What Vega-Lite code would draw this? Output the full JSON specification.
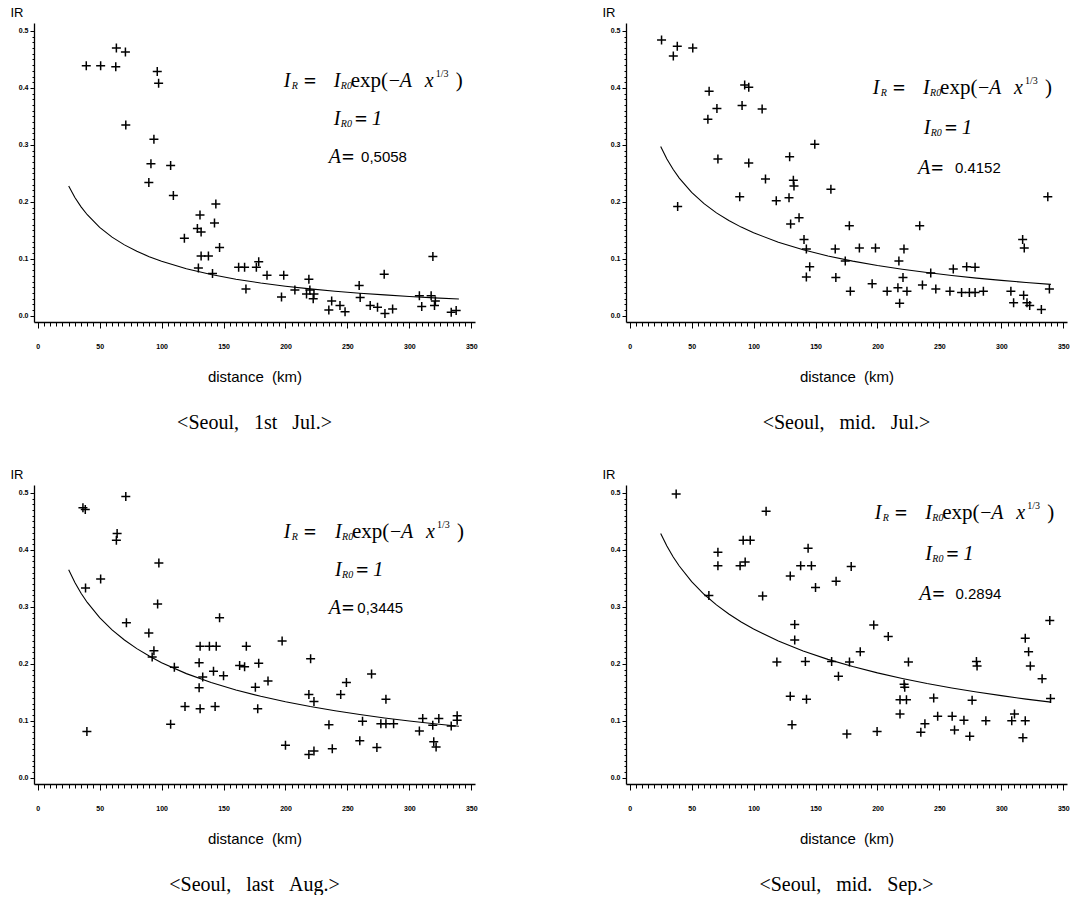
{
"$schema": "https://vega.github.io/schema/vega-lite/v6.json",
"background": "white",
"padding": {"left": 10, "top": 6, "right": 0, "bottom": 0},
"config": {"view": {"stroke": null}},
"data": {"values": [
{"panel":"a","kind":"p","d":39.2,"ir":0.439},{"panel":"a","kind":"p","d":50.8,"ir":0.439},{"panel":"a","kind":"p","d":63.5,"ir":0.470},{"panel":"a","kind":"p","d":63,"ir":0.437},{"panel":"a","kind":"p","d":70.8,"ir":0.463},{"panel":"a","kind":"p","d":71.1,"ir":0.335},{"panel":"a","kind":"p","d":96.5,"ir":0.429},{"panel":"a","kind":"p","d":97.6,"ir":0.408},{"panel":"a","kind":"p","d":93.8,"ir":0.310},{"panel":"a","kind":"p","d":91.4,"ir":0.267},{"panel":"a","kind":"p","d":89.7,"ir":0.234},{"panel":"a","kind":"p","d":107.3,"ir":0.264},{"panel":"a","kind":"p","d":109.5,"ir":0.211},{"panel":"a","kind":"p","d":118.4,"ir":0.136},{"panel":"a","kind":"p","d":131,"ir":0.177},{"panel":"a","kind":"p","d":128.9,"ir":0.153},{"panel":"a","kind":"p","d":131.9,"ir":0.147},{"panel":"a","kind":"p","d":143.8,"ir":0.196},{"panel":"a","kind":"p","d":142.7,"ir":0.163},{"panel":"a","kind":"p","d":131.9,"ir":0.105},{"panel":"a","kind":"p","d":137.8,"ir":0.105},{"panel":"a","kind":"p","d":146.8,"ir":0.120},{"panel":"a","kind":"p","d":129.7,"ir":0.084},{"panel":"a","kind":"p","d":141.1,"ir":0.074},{"panel":"a","kind":"p","d":162.2,"ir":0.085},{"panel":"a","kind":"p","d":167,"ir":0.085},{"panel":"a","kind":"p","d":168.1,"ir":0.047},{"panel":"a","kind":"p","d":176.5,"ir":0.085},{"panel":"a","kind":"p","d":178.4,"ir":0.095},{"panel":"a","kind":"p","d":185.1,"ir":0.071},{"panel":"a","kind":"p","d":198.6,"ir":0.071},{"panel":"a","kind":"p","d":196.8,"ir":0.033},{"panel":"a","kind":"p","d":207.6,"ir":0.045},{"panel":"a","kind":"p","d":218.9,"ir":0.064},{"panel":"a","kind":"p","d":219.7,"ir":0.045},{"panel":"a","kind":"p","d":223,"ir":0.038},{"panel":"a","kind":"p","d":222.4,"ir":0.030},{"panel":"a","kind":"p","d":217,"ir":0.038},{"panel":"a","kind":"p","d":235,"ir":0.010},{"panel":"a","kind":"p","d":237.3,"ir":0.026},{"panel":"a","kind":"p","d":244,"ir":0.018},{"panel":"a","kind":"p","d":248.1,"ir":0.007},{"panel":"a","kind":"p","d":259.5,"ir":0.053},{"panel":"a","kind":"p","d":260.3,"ir":0.032},{"panel":"a","kind":"p","d":268.4,"ir":0.018},{"panel":"a","kind":"p","d":274.3,"ir":0.015},{"panel":"a","kind":"p","d":280.3,"ir":0.004},{"panel":"a","kind":"p","d":279.7,"ir":0.073},{"panel":"a","kind":"p","d":286.5,"ir":0.012},{"panel":"a","kind":"p","d":308.1,"ir":0.035},{"panel":"a","kind":"p","d":310,"ir":0.016},{"panel":"a","kind":"p","d":317.6,"ir":0.035},{"panel":"a","kind":"p","d":319,"ir":0.104},{"panel":"a","kind":"p","d":320.3,"ir":0.018},{"panel":"a","kind":"p","d":321,"ir":0.026},{"panel":"a","kind":"p","d":333.8,"ir":0.006},{"panel":"a","kind":"p","d":337.8,"ir":0.009},
{"panel":"b","kind":"p","d":25.7,"ir":0.484},{"panel":"b","kind":"p","d":35.2,"ir":0.456},{"panel":"b","kind":"p","d":38.4,"ir":0.473},{"panel":"b","kind":"p","d":50.9,"ir":0.470},{"panel":"b","kind":"p","d":38.7,"ir":0.192},{"panel":"b","kind":"p","d":64.1,"ir":0.394},{"panel":"b","kind":"p","d":63.1,"ir":0.345},{"panel":"b","kind":"p","d":70.4,"ir":0.364},{"panel":"b","kind":"p","d":71.2,"ir":0.275},{"panel":"b","kind":"p","d":92.8,"ir":0.405},{"panel":"b","kind":"p","d":96.1,"ir":0.401},{"panel":"b","kind":"p","d":90.7,"ir":0.369},{"panel":"b","kind":"p","d":106.9,"ir":0.363},{"panel":"b","kind":"p","d":96.1,"ir":0.268},{"panel":"b","kind":"p","d":88.8,"ir":0.209},{"panel":"b","kind":"p","d":109.6,"ir":0.240},{"panel":"b","kind":"p","d":118.3,"ir":0.202},{"panel":"b","kind":"p","d":129.1,"ir":0.279},{"panel":"b","kind":"p","d":132.1,"ir":0.238},{"panel":"b","kind":"p","d":132.6,"ir":0.228},{"panel":"b","kind":"p","d":128.6,"ir":0.207},{"panel":"b","kind":"p","d":129.9,"ir":0.161},{"panel":"b","kind":"p","d":136.7,"ir":0.172},{"panel":"b","kind":"p","d":149.4,"ir":0.301},{"panel":"b","kind":"p","d":140.7,"ir":0.134},{"panel":"b","kind":"p","d":142.6,"ir":0.117},{"panel":"b","kind":"p","d":145.3,"ir":0.086},{"panel":"b","kind":"p","d":142.6,"ir":0.068},{"panel":"b","kind":"p","d":162.4,"ir":0.222},{"panel":"b","kind":"p","d":177.3,"ir":0.158},{"panel":"b","kind":"p","d":165.9,"ir":0.117},{"panel":"b","kind":"p","d":166.4,"ir":0.067},{"panel":"b","kind":"p","d":174,"ir":0.096},{"panel":"b","kind":"p","d":178.1,"ir":0.043},{"panel":"b","kind":"p","d":185.4,"ir":0.119},{"panel":"b","kind":"p","d":198.4,"ir":0.119},{"panel":"b","kind":"p","d":195.7,"ir":0.056},{"panel":"b","kind":"p","d":207.8,"ir":0.043},{"panel":"b","kind":"p","d":216.5,"ir":0.049},{"panel":"b","kind":"p","d":217.3,"ir":0.096},{"panel":"b","kind":"p","d":221.4,"ir":0.117},{"panel":"b","kind":"p","d":220.6,"ir":0.067},{"panel":"b","kind":"p","d":223.8,"ir":0.043},{"panel":"b","kind":"p","d":217.9,"ir":0.022},{"panel":"b","kind":"p","d":234.1,"ir":0.158},{"panel":"b","kind":"p","d":236.3,"ir":0.054},{"panel":"b","kind":"p","d":243,"ir":0.075},{"panel":"b","kind":"p","d":247.1,"ir":0.047},{"panel":"b","kind":"p","d":261.2,"ir":0.082},{"panel":"b","kind":"p","d":258.5,"ir":0.043},{"panel":"b","kind":"p","d":272,"ir":0.086},{"panel":"b","kind":"p","d":278.8,"ir":0.085},{"panel":"b","kind":"p","d":267.9,"ir":0.041},{"panel":"b","kind":"p","d":274.2,"ir":0.041},{"panel":"b","kind":"p","d":278.8,"ir":0.041},{"panel":"b","kind":"p","d":285.5,"ir":0.043},{"panel":"b","kind":"p","d":307.7,"ir":0.043},{"panel":"b","kind":"p","d":309.9,"ir":0.023},{"panel":"b","kind":"p","d":317.2,"ir":0.134},{"panel":"b","kind":"p","d":318.5,"ir":0.119},{"panel":"b","kind":"p","d":318,"ir":0.036},{"panel":"b","kind":"p","d":320.7,"ir":0.023},{"panel":"b","kind":"p","d":322.9,"ir":0.018},{"panel":"b","kind":"p","d":332.3,"ir":0.011},{"panel":"b","kind":"p","d":337.5,"ir":0.209},{"panel":"b","kind":"p","d":338.8,"ir":0.047},
{"panel":"c","kind":"p","d":36.5,"ir":0.474},{"panel":"c","kind":"p","d":38.4,"ir":0.471},{"panel":"c","kind":"p","d":71.1,"ir":0.494},{"panel":"c","kind":"p","d":64.1,"ir":0.429},{"panel":"c","kind":"p","d":63.5,"ir":0.417},{"panel":"c","kind":"p","d":38.6,"ir":0.333},{"panel":"c","kind":"p","d":50.8,"ir":0.349},{"panel":"c","kind":"p","d":39.7,"ir":0.081},{"panel":"c","kind":"p","d":71.6,"ir":0.272},{"panel":"c","kind":"p","d":97.8,"ir":0.377},{"panel":"c","kind":"p","d":96.8,"ir":0.305},{"panel":"c","kind":"p","d":89.7,"ir":0.254},{"panel":"c","kind":"p","d":93.8,"ir":0.223},{"panel":"c","kind":"p","d":92.4,"ir":0.212},{"panel":"c","kind":"p","d":110.3,"ir":0.194},{"panel":"c","kind":"p","d":107.3,"ir":0.094},{"panel":"c","kind":"p","d":118.9,"ir":0.125},{"panel":"c","kind":"p","d":131.1,"ir":0.231},{"panel":"c","kind":"p","d":138.6,"ir":0.231},{"panel":"c","kind":"p","d":144.1,"ir":0.231},{"panel":"c","kind":"p","d":146.8,"ir":0.281},{"panel":"c","kind":"p","d":130.3,"ir":0.202},{"panel":"c","kind":"p","d":130.3,"ir":0.158},{"panel":"c","kind":"p","d":133.2,"ir":0.177},{"panel":"c","kind":"p","d":141.9,"ir":0.187},{"panel":"c","kind":"p","d":150,"ir":0.179},{"panel":"c","kind":"p","d":131.1,"ir":0.121},{"panel":"c","kind":"p","d":143.2,"ir":0.125},{"panel":"c","kind":"p","d":168.4,"ir":0.231},{"panel":"c","kind":"p","d":163,"ir":0.197},{"panel":"c","kind":"p","d":167,"ir":0.195},{"panel":"c","kind":"p","d":178.4,"ir":0.201},{"panel":"c","kind":"p","d":175.7,"ir":0.159},{"panel":"c","kind":"p","d":177.6,"ir":0.121},{"panel":"c","kind":"p","d":185.9,"ir":0.170},{"panel":"c","kind":"p","d":197.3,"ir":0.240},{"panel":"c","kind":"p","d":200,"ir":0.057},{"panel":"c","kind":"p","d":220.3,"ir":0.209},{"panel":"c","kind":"p","d":218.9,"ir":0.146},{"panel":"c","kind":"p","d":223,"ir":0.134},{"panel":"c","kind":"p","d":218.9,"ir":0.041},{"panel":"c","kind":"p","d":223,"ir":0.047},{"panel":"c","kind":"p","d":235.1,"ir":0.093},{"panel":"c","kind":"p","d":237.8,"ir":0.051},{"panel":"c","kind":"p","d":249.2,"ir":0.167},{"panel":"c","kind":"p","d":244.6,"ir":0.146},{"panel":"c","kind":"p","d":262.2,"ir":0.099},{"panel":"c","kind":"p","d":260,"ir":0.065},{"panel":"c","kind":"p","d":269.5,"ir":0.182},{"panel":"c","kind":"p","d":281.1,"ir":0.138},{"panel":"c","kind":"p","d":273.8,"ir":0.053},{"panel":"c","kind":"p","d":277,"ir":0.095},{"panel":"c","kind":"p","d":281.1,"ir":0.095},{"panel":"c","kind":"p","d":287.3,"ir":0.095},{"panel":"c","kind":"p","d":308.1,"ir":0.082},{"panel":"c","kind":"p","d":310.8,"ir":0.104},{"panel":"c","kind":"p","d":318.9,"ir":0.092},{"panel":"c","kind":"p","d":319.7,"ir":0.063},{"panel":"c","kind":"p","d":321.6,"ir":0.054},{"panel":"c","kind":"p","d":323.8,"ir":0.104},{"panel":"c","kind":"p","d":333.8,"ir":0.091},{"panel":"c","kind":"p","d":338.6,"ir":0.109},{"panel":"c","kind":"p","d":338.6,"ir":0.101},
{"panel":"d","kind":"p","d":37.5,"ir":0.498},{"panel":"d","kind":"p","d":110.1,"ir":0.468},{"panel":"d","kind":"p","d":71.2,"ir":0.396},{"panel":"d","kind":"p","d":71.2,"ir":0.372},{"panel":"d","kind":"p","d":89.1,"ir":0.372},{"panel":"d","kind":"p","d":91.6,"ir":0.417},{"panel":"d","kind":"p","d":97.3,"ir":0.417},{"panel":"d","kind":"p","d":93.2,"ir":0.379},{"panel":"d","kind":"p","d":63.9,"ir":0.320},{"panel":"d","kind":"p","d":107.3,"ir":0.319},{"panel":"d","kind":"p","d":118.8,"ir":0.203},{"panel":"d","kind":"p","d":129.6,"ir":0.354},{"panel":"d","kind":"p","d":133.2,"ir":0.269},{"panel":"d","kind":"p","d":133.2,"ir":0.242},{"panel":"d","kind":"p","d":129.6,"ir":0.143},{"panel":"d","kind":"p","d":131,"ir":0.093},{"panel":"d","kind":"p","d":144,"ir":0.403},{"panel":"d","kind":"p","d":138,"ir":0.372},{"panel":"d","kind":"p","d":146.7,"ir":0.372},{"panel":"d","kind":"p","d":141.8,"ir":0.204},{"panel":"d","kind":"p","d":142.7,"ir":0.138},{"panel":"d","kind":"p","d":150,"ir":0.334},{"panel":"d","kind":"p","d":163,"ir":0.204},{"panel":"d","kind":"p","d":166.6,"ir":0.345},{"panel":"d","kind":"p","d":168.5,"ir":0.178},{"panel":"d","kind":"p","d":177.4,"ir":0.203},{"panel":"d","kind":"p","d":178.8,"ir":0.371},{"panel":"d","kind":"p","d":175.3,"ir":0.077},{"panel":"d","kind":"p","d":186.1,"ir":0.221},{"panel":"d","kind":"p","d":197,"ir":0.268},{"panel":"d","kind":"p","d":199.7,"ir":0.081},{"panel":"d","kind":"p","d":208.7,"ir":0.248},{"panel":"d","kind":"p","d":221.5,"ir":0.164},{"panel":"d","kind":"p","d":222,"ir":0.159},{"panel":"d","kind":"p","d":218.2,"ir":0.137},{"panel":"d","kind":"p","d":223.4,"ir":0.137},{"panel":"d","kind":"p","d":218.2,"ir":0.112},{"panel":"d","kind":"p","d":225,"ir":0.203},{"panel":"d","kind":"p","d":235,"ir":0.080},{"panel":"d","kind":"p","d":238.3,"ir":0.095},{"panel":"d","kind":"p","d":245.4,"ir":0.140},{"panel":"d","kind":"p","d":248.6,"ir":0.108},{"panel":"d","kind":"p","d":260.3,"ir":0.108},{"panel":"d","kind":"p","d":262.2,"ir":0.084},{"panel":"d","kind":"p","d":269.8,"ir":0.101},{"panel":"d","kind":"p","d":274.5,"ir":0.073},{"panel":"d","kind":"p","d":276.4,"ir":0.136},{"panel":"d","kind":"p","d":279.9,"ir":0.204},{"panel":"d","kind":"p","d":280.4,"ir":0.196},{"panel":"d","kind":"p","d":287.5,"ir":0.100},{"panel":"d","kind":"p","d":308.4,"ir":0.100},{"panel":"d","kind":"p","d":310.6,"ir":0.112},{"panel":"d","kind":"p","d":317.4,"ir":0.070},{"panel":"d","kind":"p","d":319.3,"ir":0.100},{"panel":"d","kind":"p","d":319.3,"ir":0.245},{"panel":"d","kind":"p","d":322,"ir":0.221},{"panel":"d","kind":"p","d":323.4,"ir":0.196},{"panel":"d","kind":"p","d":332.9,"ir":0.174},{"panel":"d","kind":"p","d":339.1,"ir":0.276},{"panel":"d","kind":"p","d":339.7,"ir":0.139},
{"panel":"a","kind":"f","d":25,"ir":0.2279},{"panel":"a","kind":"f","d":30,"ir":0.2077},{"panel":"a","kind":"f","d":35,"ir":0.1912},{"panel":"a","kind":"f","d":40,"ir":0.1773},{"panel":"a","kind":"f","d":50,"ir":0.1552},{"panel":"a","kind":"f","d":60,"ir":0.1380},{"panel":"a","kind":"f","d":70,"ir":0.1244},{"panel":"a","kind":"f","d":80,"ir":0.1131},{"panel":"a","kind":"f","d":90,"ir":0.1037},{"panel":"a","kind":"f","d":100,"ir":0.0956},{"panel":"a","kind":"f","d":120,"ir":0.0825},{"panel":"a","kind":"f","d":140,"ir":0.0724},{"panel":"a","kind":"f","d":160,"ir":0.0642},{"panel":"a","kind":"f","d":180,"ir":0.0575},{"panel":"a","kind":"f","d":200,"ir":0.0519},{"panel":"a","kind":"f","d":220,"ir":0.0472},{"panel":"a","kind":"f","d":240,"ir":0.0431},{"panel":"a","kind":"f","d":260,"ir":0.0396},{"panel":"a","kind":"f","d":280,"ir":0.0366},{"panel":"a","kind":"f","d":300,"ir":0.0338},{"panel":"a","kind":"f","d":320,"ir":0.0314},{"panel":"a","kind":"f","d":340,"ir":0.0293},
{"panel":"b","kind":"f","d":25,"ir":0.2970},{"panel":"b","kind":"f","d":30,"ir":0.2753},{"panel":"b","kind":"f","d":35,"ir":0.2571},{"panel":"b","kind":"f","d":40,"ir":0.2417},{"panel":"b","kind":"f","d":50,"ir":0.2166},{"panel":"b","kind":"f","d":60,"ir":0.1968},{"panel":"b","kind":"f","d":70,"ir":0.1806},{"panel":"b","kind":"f","d":80,"ir":0.1671},{"panel":"b","kind":"f","d":90,"ir":0.1556},{"panel":"b","kind":"f","d":100,"ir":0.1456},{"panel":"b","kind":"f","d":120,"ir":0.1290},{"panel":"b","kind":"f","d":140,"ir":0.1158},{"panel":"b","kind":"f","d":160,"ir":0.1050},{"panel":"b","kind":"f","d":180,"ir":0.0959},{"panel":"b","kind":"f","d":200,"ir":0.0882},{"panel":"b","kind":"f","d":220,"ir":0.0816},{"panel":"b","kind":"f","d":240,"ir":0.0758},{"panel":"b","kind":"f","d":260,"ir":0.0707},{"panel":"b","kind":"f","d":280,"ir":0.0661},{"panel":"b","kind":"f","d":300,"ir":0.0621},{"panel":"b","kind":"f","d":320,"ir":0.0584},{"panel":"b","kind":"f","d":340,"ir":0.0551},
{"panel":"c","kind":"f","d":25,"ir":0.3652},{"panel":"c","kind":"f","d":30,"ir":0.3429},{"panel":"c","kind":"f","d":35,"ir":0.3240},{"panel":"c","kind":"f","d":40,"ir":0.3078},{"panel":"c","kind":"f","d":50,"ir":0.2811},{"panel":"c","kind":"f","d":60,"ir":0.2596},{"panel":"c","kind":"f","d":70,"ir":0.2418},{"panel":"c","kind":"f","d":80,"ir":0.2267},{"panel":"c","kind":"f","d":90,"ir":0.2136},{"panel":"c","kind":"f","d":100,"ir":0.2021},{"panel":"c","kind":"f","d":120,"ir":0.1828},{"panel":"c","kind":"f","d":140,"ir":0.1672},{"panel":"c","kind":"f","d":160,"ir":0.1541},{"panel":"c","kind":"f","d":180,"ir":0.1430},{"panel":"c","kind":"f","d":200,"ir":0.1334},{"panel":"c","kind":"f","d":220,"ir":0.1250},{"panel":"c","kind":"f","d":240,"ir":0.1176},{"panel":"c","kind":"f","d":260,"ir":0.1109},{"panel":"c","kind":"f","d":280,"ir":0.1050},{"panel":"c","kind":"f","d":300,"ir":0.0996},{"panel":"c","kind":"f","d":320,"ir":0.0948},{"panel":"c","kind":"f","d":340,"ir":0.0903},
{"panel":"d","kind":"f","d":25,"ir":0.4290},{"panel":"d","kind":"f","d":30,"ir":0.4069},{"panel":"d","kind":"f","d":35,"ir":0.3880},{"panel":"d","kind":"f","d":40,"ir":0.3717},{"panel":"d","kind":"f","d":50,"ir":0.3443},{"panel":"d","kind":"f","d":60,"ir":0.3221},{"panel":"d","kind":"f","d":70,"ir":0.3034},{"panel":"d","kind":"f","d":80,"ir":0.2874},{"panel":"d","kind":"f","d":90,"ir":0.2734},{"panel":"d","kind":"f","d":100,"ir":0.2610},{"panel":"d","kind":"f","d":120,"ir":0.2399},{"panel":"d","kind":"f","d":140,"ir":0.2225},{"panel":"d","kind":"f","d":160,"ir":0.2078},{"panel":"d","kind":"f","d":180,"ir":0.1952},{"panel":"d","kind":"f","d":200,"ir":0.1841},{"panel":"d","kind":"f","d":220,"ir":0.1743},{"panel":"d","kind":"f","d":240,"ir":0.1655},{"panel":"d","kind":"f","d":260,"ir":0.1577},{"panel":"d","kind":"f","d":280,"ir":0.1506},{"panel":"d","kind":"f","d":300,"ir":0.1441},{"panel":"d","kind":"f","d":320,"ir":0.1381},{"panel":"d","kind":"f","d":340,"ir":0.1327},
{"panel":"a","kind":"a1","d":198.6,"ir":0.412},{"panel":"a","kind":"a2","d":239,"ir":0.412},{"panel":"a","kind":"a3","d":239,"ir":0.345},{"panel":"a","kind":"a4","d":235,"ir":0.278},{"panel":"a","kind":"a5","d":261,"ir":0.278,"val":"0,5058"},
{"panel":"b","kind":"a1","d":196.2,"ir":0.399},{"panel":"b","kind":"a2","d":236.8,"ir":0.399},{"panel":"b","kind":"a3","d":237.3,"ir":0.329},{"panel":"b","kind":"a4","d":232.7,"ir":0.260},{"panel":"b","kind":"a5","d":262.5,"ir":0.260,"val":"0.4152"},
{"panel":"c","kind":"a1","d":198.6,"ir":0.432},{"panel":"c","kind":"a2","d":240,"ir":0.432},{"panel":"c","kind":"a3","d":240,"ir":0.365},{"panel":"c","kind":"a4","d":235,"ir":0.298},{"panel":"c","kind":"a5","d":258,"ir":0.298,"val":"0,3445"},
{"panel":"d","kind":"a1","d":197.8,"ir":0.464},{"panel":"d","kind":"a2","d":238.6,"ir":0.464},{"panel":"d","kind":"a3","d":238.6,"ir":0.392},{"panel":"d","kind":"a4","d":233.7,"ir":0.323},{"panel":"d","kind":"a5","d":263,"ir":0.323,"val":"0.2894"}
]},
"facet": {"field": "panel", "type": "nominal", "header": {"title": null, "labelOrient": "bottom", "labelFont": "Liberation Serif", "labelFontSize": 20, "labelColor": "black", "labelPadding": 29, "labelExpr": "datum.value === 'a' ? '<Seoul,\u00a0\u00a0\u00a01st\u00a0\u00a0\u00a0Jul.>' : datum.value === 'b' ? '<Seoul,\u00a0\u00a0\u00a0mid.\u00a0\u00a0\u00a0Jul.>' : datum.value === 'c' ? '<Seoul,\u00a0\u00a0\u00a0last\u00a0\u00a0\u00a0Aug.>' : '<Seoul,\u00a0\u00a0\u00a0mid.\u00a0\u00a0\u00a0Sep.>'"}},
"columns": 2,
"spacing": {"row": 35, "column": 124},
"resolve": {"axis": {"x": "independent", "y": "independent"}},
"spec": {
"width": 441,
"height": 299,
"encoding": {
"x": {"field": "d", "type": "quantitative", "scale": {"domain": [-3, 353], "nice": false, "zero": false},
 "axis": {"title": "distance\u00a0\u00a0(km)", "grid": false, "values": [0,5,10,15,20,25,30,35,40,45,50,55,60,65,70,75,80,85,90,95,100,105,110,115,120,125,130,135,140,145,150,155,160,165,170,175,180,185,190,195,200,205,210,215,220,225,230,235,240,245,250,255,260,265,270,275,280,285,290,295,300,305,310,315,320,325,330,335,340,345,350],
 "labelExpr": "datum.value % 50 === 0 ? datum.label : ''",
 "tickSize": {"condition": {"test": "datum.value % 50 === 0", "value": 6}, "value": 4},
 "labelFont": "Liberation Sans", "labelFontSize": 7, "labelFontWeight": "bold", "labelColor": "black", "labelPadding": 14, "labelOverlap": false, "labelFlush": false,
 "titleFont": "Liberation Sans", "titleFontSize": 15, "titleFontWeight": "normal", "titleColor": "black", "titlePadding": 20,
 "domainColor": "black", "domainWidth": 1.3, "tickColor": "black", "tickWidth": 1}},
"y": {"field": "ir", "type": "quantitative", "scale": {"domain": [-0.011, 0.514], "nice": false, "zero": false},
 "axis": {"title": "IR", "titleAngle": 0, "titleAlign": "left", "titleBaseline": "middle", "titleX": -24, "titleY": -11, "titleFont": "Liberation Sans", "titleFontSize": 13, "titleFontWeight": "normal", "titleColor": "black", "grid": false,
 "values": [0,0.01,0.02,0.03,0.04,0.05,0.06,0.07,0.08,0.09,0.1,0.11,0.12,0.13,0.14,0.15,0.16,0.17,0.18,0.19,0.2,0.21,0.22,0.23,0.24,0.25,0.26,0.27,0.28,0.29,0.3,0.31,0.32,0.33,0.34,0.35,0.36,0.37,0.38,0.39,0.4,0.41,0.42,0.43,0.44,0.45,0.46,0.47,0.48,0.49,0.5],
 "labelExpr": "abs(datum.value*10 - round(datum.value*10)) < 0.001 ? format(datum.value, '.1f') : ''",
 "tickSize": {"condition": {"test": "abs(datum.value*10 - round(datum.value*10)) < 0.001", "value": 4}, "value": 2},
 "labelFont": "Liberation Sans", "labelFontSize": 7, "labelFontWeight": "bold", "labelColor": "black", "labelPadding": 2, "labelOverlap": false, "labelFlush": false,
 "domainColor": "black", "domainWidth": 1.3, "tickColor": "black", "tickWidth": 1}}
},
"layer": [
{"transform": [{"filter": "datum.kind === 'p'"}], "mark": {"type": "point", "shape": "M-1,0L1,0M0,-1L0,1", "filled": false, "stroke": "black", "strokeWidth": 1.5, "size": 81, "opacity": 1}},
{"transform": [{"filter": "datum.kind === 'f'"}], "mark": {"type": "line", "color": "black", "strokeWidth": 1.1}},
{"transform": [{"filter": "datum.kind === 'a1'"}], "mark": {"type": "text", "text": "I", "font": "Liberation Serif", "fontSize": 20, "fontStyle": "italic", "align": "left", "baseline": "middle", "color": "black"}},
{"transform": [{"filter": "datum.kind === 'a1'"}], "mark": {"type": "text", "text": "R", "font": "Liberation Serif", "fontSize": 10, "fontStyle": "italic", "align": "left", "baseline": "middle", "dx": 8, "dy": 5, "color": "black"}},
{"transform": [{"filter": "datum.kind === 'a1'"}], "mark": {"type": "text", "text": "=", "font": "Liberation Serif", "fontSize": 22, "fontWeight": "bold", "align": "left", "baseline": "middle", "dx": 20, "color": "black"}},
{"transform": [{"filter": "datum.kind === 'a2'"}], "mark": {"type": "text", "text": "I", "font": "Liberation Serif", "fontSize": 20, "fontStyle": "italic", "align": "left", "baseline": "middle", "color": "black"}},
{"transform": [{"filter": "datum.kind === 'a2'"}], "mark": {"type": "text", "text": "R0", "font": "Liberation Serif", "fontSize": 10, "fontStyle": "italic", "align": "left", "baseline": "middle", "dx": 7, "dy": 5, "color": "black"}},
{"transform": [{"filter": "datum.kind === 'a2'"}], "mark": {"type": "text", "text": "exp(", "font": "Liberation Serif", "fontSize": 21, "align": "left", "baseline": "middle", "dx": 17, "color": "black"}},
{"transform": [{"filter": "datum.kind === 'a2'"}], "mark": {"type": "text", "text": "−", "font": "Liberation Serif", "fontSize": 20, "align": "left", "baseline": "middle", "dx": 55, "color": "black"}},
{"transform": [{"filter": "datum.kind === 'a2'"}], "mark": {"type": "text", "text": "A", "font": "Liberation Serif", "fontSize": 20, "fontStyle": "italic", "align": "left", "baseline": "middle", "dx": 66, "color": "black"}},
{"transform": [{"filter": "datum.kind === 'a2'"}], "mark": {"type": "text", "text": "x", "font": "Liberation Serif", "fontSize": 20, "fontStyle": "italic", "align": "left", "baseline": "middle", "dx": 91, "color": "black"}},
{"transform": [{"filter": "datum.kind === 'a2'"}], "mark": {"type": "text", "text": "1/3", "font": "Liberation Serif", "fontSize": 10, "align": "left", "baseline": "middle", "dx": 102, "dy": -7, "color": "black"}},
{"transform": [{"filter": "datum.kind === 'a2'"}], "mark": {"type": "text", "text": ")", "font": "Liberation Serif", "fontSize": 21, "align": "left", "baseline": "middle", "dx": 122, "color": "black"}},
{"transform": [{"filter": "datum.kind === 'a3'"}], "mark": {"type": "text", "text": "I", "font": "Liberation Serif", "fontSize": 20, "fontStyle": "italic", "align": "left", "baseline": "middle", "color": "black"}},
{"transform": [{"filter": "datum.kind === 'a3'"}], "mark": {"type": "text", "text": "R0", "font": "Liberation Serif", "fontSize": 10, "fontStyle": "italic", "align": "left", "baseline": "middle", "dx": 7, "dy": 5, "color": "black"}},
{"transform": [{"filter": "datum.kind === 'a3'"}], "mark": {"type": "text", "text": "=", "font": "Liberation Serif", "fontSize": 22, "fontWeight": "bold", "align": "left", "baseline": "middle", "dx": 21, "color": "black"}},
{"transform": [{"filter": "datum.kind === 'a3'"}], "mark": {"type": "text", "text": "1", "font": "Liberation Serif", "fontSize": 21, "fontStyle": "italic", "align": "left", "baseline": "middle", "dx": 38, "color": "black"}},
{"transform": [{"filter": "datum.kind === 'a4'"}], "mark": {"type": "text", "text": "A", "font": "Liberation Serif", "fontSize": 20, "fontStyle": "italic", "align": "left", "baseline": "middle", "color": "black"}},
{"transform": [{"filter": "datum.kind === 'a4'"}], "mark": {"type": "text", "text": "=", "font": "Liberation Serif", "fontSize": 22, "fontWeight": "bold", "align": "left", "baseline": "middle", "dx": 13, "color": "black"}},
{"transform": [{"filter": "datum.kind === 'a5'"}], "mark": {"type": "text", "font": "Liberation Sans", "fontSize": 15, "align": "left", "baseline": "middle", "color": "black"}, "encoding": {"text": {"field": "val", "type": "nominal"}}}
]
}
}
